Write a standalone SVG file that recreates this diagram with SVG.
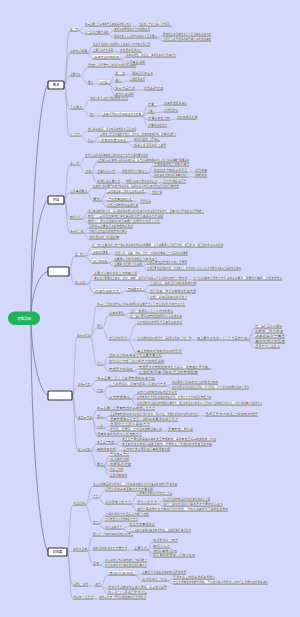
<svg xmlns="http://www.w3.org/2000/svg" width="300" height="617" viewBox="0 0 300 617">
<style>
.t{font-family:"Noto Sans CJK SC","Noto Sans",sans-serif;font-size:2.6px;fill:#4a4a4a}
.w{fill:#fbfbfd}
.bx{fill:#fff;stroke:#b4b7c6;stroke-width:.3}
.u{stroke:#333;stroke-width:.6;fill:none}
.c{fill:none;stroke:#8e92a8;stroke-width:.45}
.cb{fill:none;stroke:#7f8398;stroke-width:.9}
.br{fill:#fff;stroke:#333;stroke-width:1.2}
.bt{font-family:"Noto Sans CJK SC",sans-serif;font-size:3.2px;fill:#222;text-anchor:middle}
</style>
<rect width="300" height="617" fill="#d4d8fa"/>
<g id="connectors">
<g class="cb">
<path d="M31 314C31 200 40 92 48 85"/>
<path d="M31 315C31 260 40 204 48 200"/>
<path d="M31 316C32 290 40 273 48 271.5"/>
<path d="M31 321C32 360 40 393 48 395.5"/>
<path d="M31 322C31 440 40 540 48 552"/>
</g>
<g class="c">
<path d="M64 85C67 85 66 31 70 31"/><path d="M64 85C67 85 66 53 70 53"/><path d="M64 85C67 85 66 76 70 76"/><path d="M64 85C67 85 66 109 70 109"/><path d="M64 85C67 85 66 136 70 136"/>
<path d="M64 200C67 200 66 165 70 165"/><path d="M64 200C67 200 66 193 70 193"/><path d="M64 200C67 200 66 219 70 219"/><path d="M64 200C67 200 66 233 70 233"/>
<path d="M69 271.5C72 271.5 71 256 75 256"/><path d="M69 271.5C72 271.5 71 284 75 284"/>
<path d="M72 395.5C75 395.5 74 337 77 337"/><path d="M72 395.5C75 395.5 74 386 78 386"/><path d="M72 395.5C75 395.5 74 419 78 419"/><path d="M72 395.5C75 395.5 74 451 78 451"/>
<path d="M67 552C70 552 69 505 73 505"/><path d="M67 552C70 552 69 551 73 551"/><path d="M67 552C70 552 69 586 73 586"/><path d="M67 552C70 552 69 599 73 599"/>
<path d="M78 31C81.5 31 81.5 26 85 26"/><path d="M78 31C81.5 31 81.5 34 85 34"/><path d="M131 26H139"/><path d="M108 34C111 34 111 31 114 31"/><path d="M108 34C111 34 111 38 114 38"/><path d="M157 38C160 38 160 36 163 36"/><path d="M157 38C160 38 160 41 163 41"/>
<path d="M87 53C90 53 90 46 93 46"/><path d="M87 53C90 53 90 52 93 52"/><path d="M87 53C90 53 90 59 93 59"/><path d="M113 52H120"/><path d="M120 59C123 59 123 57 126 57"/><path d="M120 59C123 59 123 64 126 64"/>
<path d="M80 76C84 76 84 67 88 67"/><path d="M80 76C84 76 84 84 88 84"/><path d="M93 84H99"/><path d="M109 84C112 84 112 75 115 75"/><path d="M109 84C112 84 112 82 115 82"/><path d="M109 84C112 84 112 90 115 90"/><path d="M109 84C112 84 112 96 115 96"/><path d="M125 75H132"/><path d="M122 82C126 82 126 81 130 81"/><path d="M135 90H144"/>
<path d="M82 109C86 109 86 100 90 100"/><path d="M82 109C86 109 86 116 90 116"/><path d="M94 116H102"/><path d="M142 116C145 116 145 106 148 106"/><path d="M142 116C145 116 145 113 148 113"/><path d="M142 116C145 116 145 120 148 120"/><path d="M142 116C145 116 145 127 148 127"/><path d="M157 106C160.5 106 160.5 105 164 105"/><path d="M155 113C159 113 159 112 163 112"/><path d="M170 120C173.5 120 173.5 119 177 119"/>
<path d="M80 136C84 136 84 131 88 131"/><path d="M80 136C84 136 84 142 88 142"/><path d="M93 142C96.5 142 96.5 136 100 136"/><path d="M93 142H100"/><path d="M127 142C130.5 142 130.5 141 134 141"/><path d="M127 142C130.5 142 130.5 147 134 147"/>
<path d="M79 165C82 165 82 157 85 157"/><path d="M79 165C82 165 82 173 85 173"/><path d="M91 173C94 173 94 162 97 162"/><path d="M91 173H97"/><path d="M91 173C94 173 94 183 97 183"/><path d="M115 173H122"/><path d="M147 173C150.5 173 150.5 166 154 166"/><path d="M147 173C150.5 173 150.5 172 154 172"/><path d="M147 173C150.5 173 150.5 177 154 177"/><path d="M187 172H195"/><path d="M188 177H195"/><path d="M120 183H126"/><path d="M157 183H163"/>
<path d="M87 193C90 193 90 188 93 188"/><path d="M87 193C90 193 90 201 93 201"/><path d="M100 201C103.5 201 103.5 193 107 193"/><path d="M100 201H107"/><path d="M100 201C103.5 201 103.5 207 107 207"/><path d="M145 193C148.5 193 148.5 194 152 194"/><path d="M133 201C136.5 201 136.5 203 140 203"/>
<path d="M81 219C84.5 219 84.5 213 88 213"/><path d="M81 219C84.5 219 84.5 218 88 218"/><path d="M81 219C84.5 219 84.5 223 88 223"/><path d="M83 233C86 233 86 228 89 228"/><path d="M83 233H89"/><path d="M83 233C86 233 86 239 89 239"/>
<path d="M85 256C88.5 256 88.5 247 92 247"/><path d="M85 256C88.5 256 88.5 254 92 254"/><path d="M85 256C88.5 256 88.5 263 92 263"/><path d="M109 254C112 254 112 255 115 255"/><path d="M108 263C111 263 111 261 114 261"/><path d="M108 263C111 263 111 266 114 266"/><path d="M142 266C144.5 266 144.5 264 147 264"/><path d="M142 266C144.5 266 144.5 270 147 270"/>
<path d="M87 284C90.5 284 90.5 275 94 275"/><path d="M87 284C90.5 284 90.5 280 94 280"/><path d="M87 284C90.5 284 90.5 293 94 293"/><path d="M187 280H193"/><path d="M120 293C123.5 293 123.5 291 127 291"/><path d="M143 291C146.5 291 146.5 285 150 285"/><path d="M143 291C146.5 291 146.5 293 150 293"/><path d="M143 291C146.5 291 146.5 299 150 299"/>
<path d="M90 337C93.5 337 93.5 306 97 306"/><path d="M90 337C93.5 337 93.5 328 97 328"/><path d="M90 337C93.5 337 93.5 365 97 365"/><path d="M102 328C105.5 328 105.5 315 109 315"/><path d="M102 328C105.5 328 105.5 340 109 340"/><path d="M124 315C127 315 127 313 130 313"/><path d="M124 315C127 315 127 318 130 318"/><path d="M127 340C132 340 132 324 137 324"/><path d="M127 340H137"/><path d="M127 340C132 340 132 353 137 353"/><path d="M191 340H197"/><path d="M247 340C251 340 251 328 255 328"/><path d="M247 340C251 340 251 333 255 333"/><path d="M247 340C251 340 251 338 255 338"/><path d="M247 340C251 340 251 343 255 343"/><path d="M247 340C251 340 251 348 255 348"/>
<path d="M102 365C105.5 365 105.5 357 109 357"/><path d="M102 365C105.5 365 105.5 363 109 363"/><path d="M102 365C105.5 365 105.5 371 109 371"/><path d="M133 371C136 371 136 369 139 369"/><path d="M133 371C136 371 136 374 139 374"/>
<path d="M90 386C93.5 386 93.5 380 97 380"/><path d="M90 386C93.5 386 93.5 392 97 392"/><path d="M103 392C106 392 106 386 109 386"/><path d="M103 392C106 392 106 399 109 399"/><path d="M166 386C169 386 169 384 172 384"/><path d="M166 386C169 386 169 389 172 389"/><path d="M130 399C133.5 399 133.5 394 137 394"/><path d="M130 399H137"/><path d="M130 399C133.5 399 133.5 405 137 405"/>
<path d="M92 419C94.5 419 94.5 410 97 410"/><path d="M92 419C94.5 419 94.5 418 97 418"/><path d="M92 419C94.5 419 94.5 428 97 428"/><path d="M92 419C94.5 419 94.5 436 97 436"/><path d="M103 418C106.5 418 106.5 416 110 416"/><path d="M103 418C106.5 418 106.5 421 110 421"/><path d="M198 416H205"/><path d="M103 428C106.5 428 106.5 426 110 426"/><path d="M103 428C106.5 428 106.5 431 110 431"/><path d="M162 431H168"/>
<path d="M90 451C93.5 451 93.5 444 97 444"/><path d="M90 451H97"/><path d="M90 451C93.5 451 93.5 466 97 466"/><path d="M114 444C118 444 118 441 122 441"/><path d="M114 444C118 444 118 446 122 446"/><path d="M116 451H123"/><path d="M103 466C106.5 466 106.5 456 110 456"/><path d="M103 466C106.5 466 106.5 461 110 461"/><path d="M103 466H110"/><path d="M103 466C106.5 466 106.5 471 110 471"/><path d="M103 466C106.5 466 106.5 477 110 477"/>
<path d="M85 505C89 505 89 486 93 486"/><path d="M85 505C89 505 89 498 93 498"/><path d="M85 505C89 505 89 524 93 524"/><path d="M98 498C101.5 498 101.5 491 105 491"/><path d="M98 498C101.5 498 101.5 504 105 504"/><path d="M131 504C134 504 134 495 137 495"/><path d="M131 504H137"/><path d="M131 504C134 504 134 511 137 511"/><path d="M157 504C160 504 160 501 163 501"/><path d="M157 504C160 504 160 506 163 506"/><path d="M98 524C101.5 524 101.5 516 105 516"/><path d="M98 524C101.5 524 101.5 521 105 521"/><path d="M98 524C101.5 524 101.5 529 105 529"/><path d="M122 529C125.5 529 125.5 526 129 526"/><path d="M122 529C125.5 529 125.5 532 129 532"/>
<path d="M87 551C90 551 90 536 93 536"/><path d="M87 551C90 551 90 550 93 550"/><path d="M87 551C90 551 90 565 93 565"/><path d="M127 550H134"/><path d="M147 550C150 550 150 542 153 542"/><path d="M147 550C150 550 150 548 153 548"/><path d="M147 550C150 550 150 553 153 553"/><path d="M147 550C150 550 150 557 153 557"/><path d="M99 565C102 565 102 562 105 562"/><path d="M99 565C102 565 102 567 105 567"/>
<path d="M88 586H95"/><path d="M100 586C104 586 104 575 108 575"/><path d="M100 586C104 586 104 589 108 589"/><path d="M100 586C104 586 104 594 108 594"/><path d="M135 575C138.5 575 138.5 574 142 574"/><path d="M135 575C138.5 575 138.5 581 142 581"/><path d="M167 581C170 581 170 579 173 579"/><path d="M167 581C170 581 170 584 173 584"/><path d="M93 599H99"/>
</g>
</g>
<g id="root"><rect x="8" y="311.5" width="32" height="13.5" rx="6.75" fill="#1fb35b"/><text x="24" y="319.5" text-anchor="middle" font-family="Noto Sans CJK SC, sans-serif" font-size="3.4" fill="#fff">思维导图</text></g>
<g id="B1"><rect class="br" x="48" y="81" width="16" height="8" rx="1"/><text class="bt" x="56" y="86.2">概述</text></g>
<g id="B2"><rect class="br" x="48" y="196" width="16" height="8" rx="1"/><text class="bt" x="56" y="201.2">内容</text></g>
<g id="B3"><rect class="br" x="48" y="267" width="21" height="9" rx="1"/></g>
<g id="B4"><rect class="br" x="48" y="391" width="24" height="9" rx="1"/></g>
<g id="B5"><rect class="br" x="48" y="548" width="19" height="8" rx="1"/><text class="bt" x="57.5" y="553.2">总结篇</text></g>
<g id="a1" transform="translate(70 31)"><rect class="w" y="-3.2" width="8" height="3.2"/><text class="t" y="-.7" textLength="8" lengthAdjust="spacingAndGlyphs">第一节</text><path class="u" d="M0 0H8"/></g>
<g id="a1a" transform="translate(85 26)"><rect class="w" y="-3.2" width="46" height="3.2"/><text class="t" y="-.7" textLength="46" lengthAdjust="spacingAndGlyphs">本章主要介绍基本概念及其相关的理论知识</text><path class="u" d="M0 0H46"/></g>
<g id="a1a1" transform="translate(139 26)"><rect class="w" y="-3.2" width="33" height="3.2"/><text class="t" y="-.7" textLength="33" lengthAdjust="spacingAndGlyphs">包括定义特点分类以及作用意义</text><path class="u" d="M0 0H33"/></g>
<g id="a1b" transform="translate(85 34)"><rect class="w" y="-3.2" width="23" height="3.2"/><text class="t" y="-.7" textLength="23" lengthAdjust="spacingAndGlyphs">学习目标与要求说明</text><path class="u" d="M0 0H23"/></g>
<g id="a1b1" transform="translate(114 31)"><rect class="w" y="-3.2" width="36" height="3.2"/><text class="t" y="-.7" textLength="36" lengthAdjust="spacingAndGlyphs">掌握基本原理和方法的具体运用</text><path class="u" d="M0 0H36"/></g>
<g id="a1b2" transform="translate(114 38)"><rect class="w" y="-3.2" width="43" height="3.2"/><text class="t" y="-.7" textLength="43" lengthAdjust="spacingAndGlyphs">理解各部分之间的内在联系与区别要点</text><path class="u" d="M0 0H43"/></g>
<g id="a1b2a" transform="translate(163 36)"><rect class="w" y="-3.2" width="48" height="3.2"/><text class="t" y="-.7" textLength="48" lengthAdjust="spacingAndGlyphs">能够结合实际案例进行分析判断和总结归纳</text><path class="u" d="M0 0H48"/></g>
<g id="a1b2b" transform="translate(163 41)"><rect class="w" y="-3.2" width="48" height="3.2"/><text class="t" y="-.7" textLength="48" lengthAdjust="spacingAndGlyphs">注意区分容易混淆的概念避免出现理解偏差</text><path class="u" d="M0 0H48"/></g>
<g id="a2" transform="translate(70 53)"><rect class="w" y="-3.2" width="17" height="3.2"/><text class="t" y="-.7" textLength="17" lengthAdjust="spacingAndGlyphs">基础知识概要</text><path class="u" d="M0 0H17"/></g>
<g id="a2a" transform="translate(93 46)"><rect class="w" y="-3.2" width="57" height="3.2"/><text class="t" y="-.7" textLength="57" lengthAdjust="spacingAndGlyphs">相关术语的定义和解释以及在实际工作中的应用范围</text><path class="u" d="M0 0H57"/></g>
<g id="a2b" transform="translate(93 52)"><rect class="w" y="-3.2" width="20" height="3.2"/><text class="t" y="-.7" textLength="20" lengthAdjust="spacingAndGlyphs">主要分类方式说明</text><path class="u" d="M0 0H20"/></g>
<g id="a2b1" transform="translate(120 52)"><rect class="w" y="-3.2" width="22" height="3.2"/><text class="t" y="-.7" textLength="22" lengthAdjust="spacingAndGlyphs">按性质和用途划分</text><path class="u" d="M0 0H22"/></g>
<g id="a2c" transform="translate(93 59)"><rect class="bx" y="-4.2" width="27" height="4.2"/><text class="t" x="1" y="-1.2" textLength="25" lengthAdjust="spacingAndGlyphs">基本特征归纳总结</text><path class="u" d="M0 0H27"/></g>
<g id="a2c1" transform="translate(126 57)"><rect class="w" y="-3.2" width="50" height="3.2"/><text class="t" y="-.7" textLength="50" lengthAdjust="spacingAndGlyphs">具有系统性、综合性、实践性和规范性等特点</text><path class="u" d="M0 0H50"/></g>
<g id="a2c2" transform="translate(126 64)"><rect class="w" y="-3.2" width="19" height="3.2"/><text class="t" y="-.7" textLength="19" lengthAdjust="spacingAndGlyphs">注意事项说明</text><path class="u" d="M0 0H19"/></g>
<g id="a3" transform="translate(70 76)"><rect class="w" y="-3.2" width="10" height="3.2"/><text class="t" y="-.7" textLength="10" lengthAdjust="spacingAndGlyphs">主要内容</text><path class="u" d="M0 0H10"/></g>
<g id="a3a" transform="translate(88 67)"><rect class="w" y="-3.2" width="48" height="3.2"/><text class="t" y="-.7" textLength="48" lengthAdjust="spacingAndGlyphs">围绕核心问题展开论述并提出相应解决措施</text><path class="u" d="M0 0H48"/></g>
<g id="a3b" transform="translate(88 84)"><rect class="w" y="-3.2" width="5" height="3.2"/><text class="t" y="-.7" textLength="5" lengthAdjust="spacingAndGlyphs">要点</text><path class="u" d="M0 0H5"/></g>
<g id="a3b1" transform="translate(99 84)"><rect class="bx" y="-4.2" width="10" height="4.2"/><text class="t" x="1" y="-1.2" textLength="8" lengthAdjust="spacingAndGlyphs">三方面</text><path class="u" d="M0 0H10"/></g>
<g id="a3b1a" transform="translate(115 75)"><rect class="w" y="-3.2" width="10" height="3.2"/><text class="t" y="-.7" textLength="10" lengthAdjust="spacingAndGlyphs">第一点</text><path class="u" d="M0 0H10"/></g>
<g id="a3b1a1" transform="translate(132 75)"><rect class="w" y="-3.2" width="21" height="3.2"/><text class="t" y="-.7" textLength="21" lengthAdjust="spacingAndGlyphs">明确目标和任务</text><path class="u" d="M0 0H21"/></g>
<g id="a3b1b" transform="translate(115 82)"><rect class="w" y="-3.2" width="7" height="3.2"/><text class="t" y="-.7" textLength="7" lengthAdjust="spacingAndGlyphs">其二</text><path class="u" d="M0 0H7"/></g>
<g id="a3b1b1" transform="translate(130 81)"><rect class="w" y="-3.2" width="15" height="3.2"/><text class="t" y="-.7" textLength="15" lengthAdjust="spacingAndGlyphs">合理配置资源</text><path class="u" d="M0 0H15"/></g>
<g id="a3b1c" transform="translate(115 90)"><rect class="w" y="-3.2" width="20" height="3.2"/><text class="t" y="-.7" textLength="20" lengthAdjust="spacingAndGlyphs">第三方面内容</text><path class="u" d="M0 0H20"/></g>
<g id="a3b1c1" transform="translate(144 90)"><rect class="w" y="-3.2" width="19" height="3.2"/><text class="t" y="-.7" textLength="19" lengthAdjust="spacingAndGlyphs">加强监督与检查</text><path class="u" d="M0 0H19"/></g>
<g id="a3b1d" transform="translate(115 96)"><rect class="w" y="-3.2" width="19" height="3.2"/><text class="t" y="-.7" textLength="19" lengthAdjust="spacingAndGlyphs">其他补充说明</text><path class="u" d="M0 0H19"/></g>
<g id="a4" transform="translate(70 109)"><rect class="w" y="-3.2" width="12" height="3.2"/><text class="t" y="-.7" textLength="12" lengthAdjust="spacingAndGlyphs">重点难点</text><path class="u" d="M0 0H12"/></g>
<g id="a4a" transform="translate(90 100)"><rect class="w" y="-3.2" width="38" height="3.2"/><text class="t" y="-.7" textLength="38" lengthAdjust="spacingAndGlyphs">本部分的重点在于理解原理与方法</text><path class="u" d="M0 0H38"/></g>
<g id="a4b" transform="translate(90 116)"><rect class="w" y="-3.2" width="4" height="3.2"/><text class="t" y="-.7" textLength="4" lengthAdjust="spacingAndGlyphs">难点</text><path class="u" d="M0 0H4"/></g>
<g id="a4b1" transform="translate(102 116)"><rect class="bx" y="-4.2" width="40" height="4.2"/><text class="t" x="1" y="-1.2" textLength="38" lengthAdjust="spacingAndGlyphs">具体问题的分析和解决方法步骤</text><path class="u" d="M0 0H40"/></g>
<g id="a4c1" transform="translate(148 106)"><rect class="w" y="-3.2" width="9" height="3.2"/><text class="t" y="-.7" textLength="9" lengthAdjust="spacingAndGlyphs">步骤一</text><path class="u" d="M0 0H9"/></g>
<g id="a4c1a" transform="translate(164 105)"><rect class="w" y="-3.2" width="23" height="3.2"/><text class="t" y="-.7" textLength="23" lengthAdjust="spacingAndGlyphs">收集整理相关资料</text><path class="u" d="M0 0H23"/></g>
<g id="a4c2" transform="translate(148 113)"><rect class="w" y="-3.2" width="7" height="3.2"/><text class="t" y="-.7" textLength="7" lengthAdjust="spacingAndGlyphs">步骤二</text><path class="u" d="M0 0H7"/></g>
<g id="a4c2a" transform="translate(163 112)"><rect class="w" y="-3.2" width="15" height="3.2"/><text class="t" y="-.7" textLength="15" lengthAdjust="spacingAndGlyphs">分析原因所在</text><path class="u" d="M0 0H15"/></g>
<g id="a4c3" transform="translate(148 120)"><rect class="w" y="-3.2" width="22" height="3.2"/><text class="t" y="-.7" textLength="22" lengthAdjust="spacingAndGlyphs">步骤三制定方案</text><path class="u" d="M0 0H22"/></g>
<g id="a4c3a" transform="translate(177 119)"><rect class="w" y="-3.2" width="20" height="3.2"/><text class="t" y="-.7" textLength="20" lengthAdjust="spacingAndGlyphs">组织实施并反馈</text><path class="u" d="M0 0H20"/></g>
<g id="a4c4" transform="translate(148 127)"><rect class="w" y="-3.2" width="19" height="3.2"/><text class="t" y="-.7" textLength="19" lengthAdjust="spacingAndGlyphs">步骤四总结评价</text><path class="u" d="M0 0H19"/></g>
<g id="a5" transform="translate(70 136)"><rect class="w" y="-3.2" width="10" height="3.2"/><text class="t" y="-.7" textLength="10" lengthAdjust="spacingAndGlyphs">学习方法</text><path class="u" d="M0 0H10"/></g>
<g id="a5a" transform="translate(88 131)"><rect class="w" y="-3.2" width="48" height="3.2"/><text class="t" y="-.7" textLength="48" lengthAdjust="spacingAndGlyphs">理论联系实际，注重知识的理解与灵活运用</text><path class="u" d="M0 0H48"/></g>
<g id="a5b" transform="translate(88 142)"><rect class="w" y="-3.2" width="5" height="3.2"/><text class="t" y="-.7" textLength="5" lengthAdjust="spacingAndGlyphs">建议</text><path class="u" d="M0 0H5"/></g>
<g id="a5b1" transform="translate(100 136)"><rect class="w" y="-3.2" width="76" height="3.2"/><text class="t" y="-.7" textLength="76" lengthAdjust="spacingAndGlyphs">多做练习题目巩固所学知识，及时复习总结并查漏补缺，提高综合能力</text><path class="u" d="M0 0H76"/></g>
<g id="a5b2" transform="translate(100 142)"><rect class="bx" y="-4.2" width="27" height="4.2"/><text class="t" x="1" y="-1.2" textLength="25" lengthAdjust="spacingAndGlyphs">参考资料推荐书目</text><path class="u" d="M0 0H27"/></g>
<g id="a5b2a" transform="translate(134 141)"><rect class="w" y="-3.2" width="26" height="3.2"/><text class="t" y="-.7" textLength="26" lengthAdjust="spacingAndGlyphs">教材及配套习题集合</text><path class="u" d="M0 0H26"/></g>
<g id="a5b2b" transform="translate(134 147)"><rect class="w" y="-3.2" width="32" height="3.2"/><text class="t" y="-.7" textLength="32" lengthAdjust="spacingAndGlyphs">相关论文及网络学习资源</text><path class="u" d="M0 0H32"/></g>
<g id="b1" transform="translate(70 165)"><rect class="w" y="-3.2" width="9" height="3.2"/><text class="t" y="-.7" textLength="9" lengthAdjust="spacingAndGlyphs">第二节</text><path class="u" d="M0 0H9"/></g>
<g id="b1a" transform="translate(85 157)"><rect class="w" y="-3.2" width="63" height="3.2"/><text class="t" y="-.7" textLength="63" lengthAdjust="spacingAndGlyphs">本节重点阐述具体实施过程中的各个环节与操作要求说明</text><path class="u" d="M0 0H63"/></g>
<g id="b1b" transform="translate(85 173)"><rect class="w" y="-3.2" width="6" height="3.2"/><text class="t" y="-.7" textLength="6" lengthAdjust="spacingAndGlyphs">流程</text><path class="u" d="M0 0H6"/></g>
<g id="b1b1" transform="translate(97 162)"><rect class="w" y="-3.2" width="92" height="3.2"/><text class="t" y="-.7" textLength="92" lengthAdjust="spacingAndGlyphs">从准备阶段到实施阶段再到总结阶段，每个阶段都有明确的任务目标和具体要求需要落实</text><path class="u" d="M0 0H92"/></g>
<g id="b1b2" transform="translate(97 173)"><rect class="w" y="-3.2" width="18" height="3.2"/><text class="t" y="-.7" textLength="18" lengthAdjust="spacingAndGlyphs">准备阶段工作</text><path class="u" d="M0 0H18"/></g>
<g id="b1b2a" transform="translate(122 173)"><rect class="w" y="-3.2" width="25" height="3.2"/><text class="t" y="-.7" textLength="25" lengthAdjust="spacingAndGlyphs">前期调研与方案设计</text><path class="u" d="M0 0H25"/></g>
<g id="b1b2a1" transform="translate(154 166)"><rect class="w" y="-3.2" width="35" height="3.2"/><text class="t" y="-.7" textLength="35" lengthAdjust="spacingAndGlyphs">开展调查研究了解实际情况</text><path class="u" d="M0 0H35"/></g>
<g id="b1b2a2" transform="translate(154 172)"><rect class="w" y="-3.2" width="33" height="3.2"/><text class="t" y="-.7" textLength="33" lengthAdjust="spacingAndGlyphs">制定初步方案并征求意见</text><path class="u" d="M0 0H33"/></g>
<g id="b1b2a2x" transform="translate(195 172)"><rect class="w" y="-3.2" width="12" height="3.2"/><text class="t" y="-.7" textLength="12" lengthAdjust="spacingAndGlyphs">修改完善</text><path class="u" d="M0 0H12"/></g>
<g id="b1b2a3" transform="translate(154 177)"><rect class="w" y="-3.2" width="34" height="3.2"/><text class="t" y="-.7" textLength="34" lengthAdjust="spacingAndGlyphs">确定最终方案并报请审批执行</text><path class="u" d="M0 0H34"/></g>
<g id="b1b2a3x" transform="translate(195 177)"><rect class="w" y="-3.2" width="12" height="3.2"/><text class="t" y="-.7" textLength="12" lengthAdjust="spacingAndGlyphs">按期完成</text><path class="u" d="M0 0H12"/></g>
<g id="b1b3" transform="translate(97 183)"><rect class="w" y="-3.2" width="23" height="3.2"/><text class="t" y="-.7" textLength="23" lengthAdjust="spacingAndGlyphs">实施阶段主要工作</text><path class="u" d="M0 0H23"/></g>
<g id="b1b3a" transform="translate(126 183)"><rect class="w" y="-3.2" width="31" height="3.2"/><text class="t" y="-.7" textLength="31" lengthAdjust="spacingAndGlyphs">按照计划有序推进各项任务</text><path class="u" d="M0 0H31"/></g>
<g id="b1b3b" transform="translate(163 183)"><rect class="w" y="-3.2" width="23" height="3.2"/><text class="t" y="-.7" textLength="23" lengthAdjust="spacingAndGlyphs">及时协调解决问题</text><path class="u" d="M0 0H23"/></g>
<g id="b2" transform="translate(70 193)"><rect class="w" y="-3.2" width="17" height="3.2"/><text class="t" y="-.7" textLength="17" lengthAdjust="spacingAndGlyphs">注意事项要点</text><path class="u" d="M0 0H17"/></g>
<g id="b2a" transform="translate(93 188)"><rect class="w" y="-3.2" width="86" height="3.2"/><text class="t" y="-.7" textLength="86" lengthAdjust="spacingAndGlyphs">在实施过程中要严格遵守相关规定，确保各项工作规范有序地进行并取得预期效果</text><path class="u" d="M0 0H86"/></g>
<g id="b2b" transform="translate(93 201)"><rect class="w" y="-3.2" width="7" height="3.2"/><text class="t" y="-.7" textLength="7" lengthAdjust="spacingAndGlyphs">要求</text><path class="u" d="M0 0H7"/></g>
<g id="b2b1" transform="translate(107 193)"><rect class="bx" y="-4.2" width="38" height="4.2"/><text class="t" x="1" y="-1.2" textLength="36" lengthAdjust="spacingAndGlyphs">坚持安全第一预防为主综合治理</text><path class="u" d="M0 0H38"/></g>
<g id="b2b1a" transform="translate(152 194)"><rect class="w" y="-3.2" width="10" height="3.2"/><text class="t" y="-.7" textLength="10" lengthAdjust="spacingAndGlyphs">常抓不懈</text><path class="u" d="M0 0H10"/></g>
<g id="b2b2" transform="translate(107 201)"><rect class="bx" y="-4.2" width="26" height="4.2"/><text class="t" x="1" y="-1.2" textLength="24" lengthAdjust="spacingAndGlyphs">严格质量控制标准</text><path class="u" d="M0 0H26"/></g>
<g id="b2b2a" transform="translate(140 203)"><rect class="w" y="-3.2" width="11" height="3.2"/><text class="t" y="-.7" textLength="11" lengthAdjust="spacingAndGlyphs">层层把关</text><path class="u" d="M0 0H11"/></g>
<g id="b2b3" transform="translate(107 207)"><rect class="w" y="-3.2" width="31" height="3.2"/><text class="t" y="-.7" textLength="31" lengthAdjust="spacingAndGlyphs">加强过程管理和监督检查</text><path class="u" d="M0 0H31"/></g>
<g id="b3" transform="translate(70 219)"><rect class="w" y="-3.2" width="11" height="3.2"/><text class="t" y="-.7" textLength="11" lengthAdjust="spacingAndGlyphs">案例分析</text><path class="u" d="M0 0H11"/></g>
<g id="b3a" transform="translate(88 213)"><rect class="w" y="-3.2" width="116" height="3.2"/><text class="t" y="-.7" textLength="116" lengthAdjust="spacingAndGlyphs">通过典型案例的分析，深入理解相关理论知识在实际中的运用方法和技巧，提高分析问题和解决问题的能力</text><path class="u" d="M0 0H116"/></g>
<g id="b3b" transform="translate(88 218)"><rect class="w" y="-3.2" width="75" height="3.2"/><text class="t" y="-.7" textLength="75" lengthAdjust="spacingAndGlyphs">案例一：某单位在实施过程中遇到的问题及其解决办法说明</text><path class="u" d="M0 0H75"/></g>
<g id="b3c" transform="translate(88 223)"><rect class="w" y="-3.2" width="72" height="3.2"/><text class="t" y="-.7" textLength="72" lengthAdjust="spacingAndGlyphs">案例二：成功经验的总结及其推广应用价值与意义分析</text><path class="u" d="M0 0H72"/></g>
<g id="b4" transform="translate(70 233)"><rect class="w" y="-3.2" width="13" height="3.2"/><text class="t" y="-.7" textLength="13" lengthAdjust="spacingAndGlyphs">本章的小结</text><path class="u" d="M0 0H13"/></g>
<g id="b4a" transform="translate(89 228)"><rect class="w" y="-3.2" width="44" height="3.2"/><text class="t" y="-.7" textLength="44" lengthAdjust="spacingAndGlyphs">回顾本章主要知识点并梳理知识框架</text><path class="u" d="M0 0H44"/></g>
<g id="b4b" transform="translate(89 233)"><rect class="w" y="-3.2" width="38" height="3.2"/><text class="t" y="-.7" textLength="38" lengthAdjust="spacingAndGlyphs">归纳重点内容形成完整知识体系</text><path class="u" d="M0 0H38"/></g>
<g id="b4c" transform="translate(89 239)"><rect class="w" y="-3.2" width="30" height="3.2"/><text class="t" y="-.7" textLength="30" lengthAdjust="spacingAndGlyphs">完成课后练习巩固提高</text><path class="u" d="M0 0H30"/></g>
<g id="c1" transform="translate(75 256)"><rect class="w" y="-3.2" width="10" height="3.2"/><text class="t" y="-.7" textLength="10" lengthAdjust="spacingAndGlyphs">第一部分</text><path class="u" d="M0 0H10"/></g>
<g id="c1a" transform="translate(92 247)"><rect class="w" y="-3.2" width="131" height="3.2"/><text class="t" y="-.7" textLength="131" lengthAdjust="spacingAndGlyphs">这一部分主要讲述了整个体系的基本结构和组成要素，以及各要素之间相互作用、相互影响、相互制约的关系和规律</text><path class="u" d="M0 0H131"/></g>
<g id="c1b" transform="translate(92 254)"><rect class="bx" y="-4.2" width="17" height="4.2"/><text class="t" x="1" y="-1.2" textLength="15" lengthAdjust="spacingAndGlyphs">基本组成要素</text><path class="u" d="M0 0H17"/></g>
<g id="c1b1" transform="translate(115 255)"><rect class="w" y="-3.2" width="73" height="3.2"/><text class="t" y="-.7" textLength="73" lengthAdjust="spacingAndGlyphs">包括人员、设备、材料、方法、环境和测量等六个方面的基本要素</text><path class="u" d="M0 0H73"/></g>
<g id="c1c" transform="translate(92 263)"><rect class="bx" y="-4.2" width="16" height="4.2"/><text class="t" x="1" y="-1.2" textLength="14" lengthAdjust="spacingAndGlyphs">运行机制说明</text><path class="u" d="M0 0H16"/></g>
<g id="c1c1" transform="translate(114 261)"><rect class="w" y="-3.2" width="43" height="3.2"/><text class="t" y="-.7" textLength="43" lengthAdjust="spacingAndGlyphs">各要素之间的协调配合与有效运行</text><path class="u" d="M0 0H43"/></g>
<g id="c1c2" transform="translate(114 266)"><rect class="w" y="-3.2" width="28" height="3.2"/><text class="t" y="-.7" textLength="28" lengthAdjust="spacingAndGlyphs">主要影响因素分析说明</text><path class="u" d="M0 0H28"/></g>
<g id="c1c2a" transform="translate(147 264)"><rect class="w" y="-3.2" width="40" height="3.2"/><text class="t" y="-.7" textLength="40" lengthAdjust="spacingAndGlyphs">内部因素包括管理水平和人员素质</text><path class="u" d="M0 0H40"/></g>
<g id="c1c2b" transform="translate(147 270)"><rect class="w" y="-3.2" width="94" height="3.2"/><text class="t" y="-.7" textLength="94" lengthAdjust="spacingAndGlyphs">外部因素包括政策环境、市场变化、技术进步以及社会经济发展水平等多方面的综合影响</text><path class="u" d="M0 0H94"/></g>
<g id="c2" transform="translate(75 284)"><rect class="w" y="-3.2" width="12" height="3.2"/><text class="t" y="-.7" textLength="12" lengthAdjust="spacingAndGlyphs">第二大部分</text><path class="u" d="M0 0H12"/></g>
<g id="c2a" transform="translate(94 275)"><rect class="w" y="-3.2" width="43" height="3.2"/><text class="t" y="-.7" textLength="43" lengthAdjust="spacingAndGlyphs">主要讨论体系的建立与完善过程</text><path class="u" d="M0 0H43"/></g>
<g id="c2b" transform="translate(94 280)"><rect class="w" y="-3.2" width="93" height="3.2"/><text class="t" y="-.7" textLength="93" lengthAdjust="spacingAndGlyphs">体系建立需要经过策划、设计、实施、运行和改进等多个阶段的持续努力才能完成</text><path class="u" d="M0 0H93"/></g>
<g id="c2b1" transform="translate(193 280)"><rect class="w" y="-3.2" width="89" height="3.2"/><text class="t" y="-.7" textLength="89" lengthAdjust="spacingAndGlyphs">每个阶段都有不同的工作重点和任务要求，需要统筹兼顾、合理安排推进</text><path class="u" d="M0 0H89"/></g>
<g id="c2c" transform="translate(94 293)"><rect class="bx" y="-4.2" width="26" height="4.2"/><text class="t" x="1" y="-1.2" textLength="24" lengthAdjust="spacingAndGlyphs">持续改进的方法</text><path class="u" d="M0 0H26"/></g>
<g id="c2c1" transform="translate(127 291)"><rect class="bx" y="-4.2" width="16" height="4.2"/><text class="t" x="1" y="-1.2" textLength="14" lengthAdjust="spacingAndGlyphs">戴明循环法</text><path class="u" d="M0 0H16"/></g>
<g id="c2c1a" transform="translate(150 285)"><rect class="w" y="-3.2" width="46" height="3.2"/><text class="t" y="-.7" textLength="46" lengthAdjust="spacingAndGlyphs">计划阶段：确定目标和制定实施方案</text><path class="u" d="M0 0H46"/></g>
<g id="c2c1b" transform="translate(150 293)"><rect class="w" y="-3.2" width="46" height="3.2"/><text class="t" y="-.7" textLength="46" lengthAdjust="spacingAndGlyphs">执行检查：按计划实施并检查效果</text><path class="u" d="M0 0H46"/></g>
<g id="c2c1c" transform="translate(150 299)"><rect class="w" y="-3.2" width="37" height="3.2"/><text class="t" y="-.7" textLength="37" lengthAdjust="spacingAndGlyphs">处理：总结经验教训并标准化</text><path class="u" d="M0 0H37"/></g>
<g id="d1" transform="translate(77 337)"><rect class="w" y="-3.2" width="13" height="3.2"/><text class="t" y="-.7" textLength="13" lengthAdjust="spacingAndGlyphs">第三章内容</text><path class="u" d="M0 0H13"/></g>
<g id="d1a" transform="translate(97 306)"><rect class="w" y="-3.2" width="88" height="3.2"/><text class="t" y="-.7" textLength="88" lengthAdjust="spacingAndGlyphs">本章介绍组织结构设计的基本原则和主要方法以及常见组织形式的特点分析</text><path class="u" d="M0 0H88"/></g>
<g id="d1b" transform="translate(97 328)"><rect class="w" y="-3.2" width="5" height="3.2"/><text class="t" y="-.7" textLength="5" lengthAdjust="spacingAndGlyphs">原则</text><path class="u" d="M0 0H5"/></g>
<g id="d1b1" transform="translate(109 315)"><rect class="w" y="-3.2" width="15" height="3.2"/><text class="t" y="-.7" textLength="15" lengthAdjust="spacingAndGlyphs">基本的原则</text><path class="u" d="M0 0H15"/></g>
<g id="d1b1a" transform="translate(130 313)"><rect class="w" y="-3.2" width="43" height="3.2"/><text class="t" y="-.7" textLength="43" lengthAdjust="spacingAndGlyphs">目标一致原则以及分工协作的原则</text><path class="u" d="M0 0H43"/></g>
<g id="d1b1b" transform="translate(130 318)"><rect class="w" y="-3.2" width="52" height="3.2"/><text class="t" y="-.7" textLength="52" lengthAdjust="spacingAndGlyphs">统一指挥原则和管理幅度原则以及权责对等</text><path class="u" d="M0 0H52"/></g>
<g id="d1b2" transform="translate(109 340)"><rect class="w" y="-3.2" width="18" height="3.2"/><text class="t" y="-.7" textLength="18" lengthAdjust="spacingAndGlyphs">常见组织形式</text><path class="u" d="M0 0H18"/></g>
<g id="d1b2a" transform="translate(137 324)"><rect class="w" y="-3.2" width="45" height="3.2"/><text class="t" y="-.7" textLength="45" lengthAdjust="spacingAndGlyphs">直线制组织结构形式及其优点和缺点</text><path class="u" d="M0 0H45"/></g>
<g id="d1b2b" transform="translate(137 340)"><rect class="w" y="-3.2" width="54" height="3.2"/><text class="t" y="-.7" textLength="54" lengthAdjust="spacingAndGlyphs">直线职能制组织结构形式，是目前应用最广泛的一种</text><path class="u" d="M0 0H54"/></g>
<g id="d1b2b1" transform="translate(197 340)"><rect class="w" y="-3.2" width="50" height="3.2"/><text class="t" y="-.7" textLength="50" lengthAdjust="spacingAndGlyphs">其主要特点包括以下几个方面的内容</text><path class="u" d="M0 0H50"/></g>
<g id="d1b2b1a" transform="translate(255 328)"><rect class="w" y="-3.2" width="27" height="3.2"/><text class="t" y="-.7" textLength="27" lengthAdjust="spacingAndGlyphs">统一指挥且分工明确</text><path class="u" d="M0 0H27"/></g>
<g id="d1b2b1b" transform="translate(255 333)"><rect class="w" y="-3.2" width="28" height="3.2"/><text class="t" y="-.7" textLength="28" lengthAdjust="spacingAndGlyphs">职能部门作为参谋</text><path class="u" d="M0 0H28"/></g>
<g id="d1b2b1c" transform="translate(255 338)"><rect class="w" y="-3.2" width="30" height="3.2"/><text class="t" y="-.7" textLength="30" lengthAdjust="spacingAndGlyphs">决策权集中于高层</text><path class="u" d="M0 0H30"/></g>
<g id="d1b2b1d" transform="translate(255 343)"><rect class="w" y="-3.2" width="30" height="3.2"/><text class="t" y="-.7" textLength="30" lengthAdjust="spacingAndGlyphs">横向协调比较困难</text><path class="u" d="M0 0H30"/></g>
<g id="d1b2b1e" transform="translate(255 348)"><rect class="w" y="-3.2" width="25" height="3.2"/><text class="t" y="-.7" textLength="25" lengthAdjust="spacingAndGlyphs">适用于中小型企业</text><path class="u" d="M0 0H25"/></g>
<g id="d1b2c" transform="translate(137 353)"><rect class="w" y="-3.2" width="45" height="3.2"/><text class="t" y="-.7" textLength="45" lengthAdjust="spacingAndGlyphs">事业部制和矩阵制组织结构形式</text><path class="u" d="M0 0H45"/></g>
<g id="d1c" transform="translate(97 365)"><rect class="w" y="-3.2" width="5" height="3.2"/><text class="t" y="-.7" textLength="5" lengthAdjust="spacingAndGlyphs">方法</text><path class="u" d="M0 0H5"/></g>
<g id="d1c1" transform="translate(109 357)"><rect class="w" y="-3.2" width="53" height="3.2"/><text class="t" y="-.7" textLength="53" lengthAdjust="spacingAndGlyphs">组织设计的基本程序与主要步骤分析</text><path class="u" d="M0 0H53"/></g>
<g id="d1c2" transform="translate(109 363)"><rect class="w" y="-3.2" width="55" height="3.2"/><text class="t" y="-.7" textLength="55" lengthAdjust="spacingAndGlyphs">职位设计与部门划分的方法和依据说明</text><path class="u" d="M0 0H55"/></g>
<g id="d1c3" transform="translate(109 371)"><rect class="w" y="-3.2" width="24" height="3.2"/><text class="t" y="-.7" textLength="24" lengthAdjust="spacingAndGlyphs">管理层次的确定</text><path class="u" d="M0 0H24"/></g>
<g id="d1c3a" transform="translate(139 369)"><rect class="w" y="-3.2" width="72" height="3.2"/><text class="t" y="-.7" textLength="72" lengthAdjust="spacingAndGlyphs">管理层次与管理幅度成反比关系，幅度越大层次越少</text><path class="u" d="M0 0H72"/></g>
<g id="d1c3b" transform="translate(139 374)"><rect class="w" y="-3.2" width="59" height="3.2"/><text class="t" y="-.7" textLength="59" lengthAdjust="spacingAndGlyphs">应根据实际情况确定适当的管理幅度</text><path class="u" d="M0 0H59"/></g>
<g id="d2" transform="translate(78 386)"><rect class="w" y="-3.2" width="12" height="3.2"/><text class="t" y="-.7" textLength="12" lengthAdjust="spacingAndGlyphs">第四章内容</text><path class="u" d="M0 0H12"/></g>
<g id="d2a" transform="translate(97 380)"><rect class="w" y="-3.2" width="58" height="3.2"/><text class="t" y="-.7" textLength="58" lengthAdjust="spacingAndGlyphs">本章主要介绍人力资源管理的基本内容</text><path class="u" d="M0 0H58"/></g>
<g id="d2b" transform="translate(97 392)"><rect class="w" y="-3.2" width="6" height="3.2"/><text class="t" y="-.7" textLength="6" lengthAdjust="spacingAndGlyphs">内容</text><path class="u" d="M0 0H6"/></g>
<g id="d2b1" transform="translate(109 386)"><rect class="w" y="-3.2" width="57" height="3.2"/><text class="t" y="-.7" textLength="57" lengthAdjust="spacingAndGlyphs">人力资源规划、招聘与配置以及培训与开发</text><path class="u" d="M0 0H57"/></g>
<g id="d2b1a" transform="translate(172 384)"><rect class="w" y="-3.2" width="46" height="3.2"/><text class="t" y="-.7" textLength="46" lengthAdjust="spacingAndGlyphs">培训需求分析和培训计划的制定与实施</text><path class="u" d="M0 0H46"/></g>
<g id="d2b1b" transform="translate(172 389)"><rect class="w" y="-3.2" width="77" height="3.2"/><text class="t" y="-.7" textLength="77" lengthAdjust="spacingAndGlyphs">培训效果评估包括反应评估、学习评估、行为评估和结果评估四个层次</text><path class="u" d="M0 0H77"/></g>
<g id="d2b2" transform="translate(109 399)"><rect class="w" y="-3.2" width="21" height="3.2"/><text class="t" y="-.7" textLength="21" lengthAdjust="spacingAndGlyphs">绩效管理体系</text><path class="u" d="M0 0H21"/></g>
<g id="d2b2a" transform="translate(137 394)"><rect class="w" y="-3.2" width="40" height="3.2"/><text class="t" y="-.7" textLength="40" lengthAdjust="spacingAndGlyphs">绩效计划的制定和绩效目标设定</text><path class="u" d="M0 0H40"/></g>
<g id="d2b2b" transform="translate(137 399)"><rect class="w" y="-3.2" width="74" height="3.2"/><text class="t" y="-.7" textLength="74" lengthAdjust="spacingAndGlyphs">绩效考核方法包括关键绩效指标法、平衡计分卡法和目标管理法等</text><path class="u" d="M0 0H74"/></g>
<g id="d2b2c" transform="translate(137 405)"><rect class="w" y="-3.2" width="125" height="3.2"/><text class="t" y="-.7" textLength="125" lengthAdjust="spacingAndGlyphs">绩效反馈与改进是绩效管理的重要环节，通过绩效面谈帮助员工认识自身不足并制定改进计划，从而不断提高工作绩效水平</text><path class="u" d="M0 0H125"/></g>
<g id="d3" transform="translate(78 419)"><rect class="w" y="-3.2" width="14" height="3.2"/><text class="t" y="-.7" textLength="14" lengthAdjust="spacingAndGlyphs">第五章内容</text><path class="u" d="M0 0H14"/></g>
<g id="d3a" transform="translate(97 410)"><rect class="w" y="-3.2" width="58" height="3.2"/><text class="t" y="-.7" textLength="58" lengthAdjust="spacingAndGlyphs">本章主要介绍质量管理的基本理论与方法</text><path class="u" d="M0 0H58"/></g>
<g id="d3b" transform="translate(97 418)"><rect class="w" y="-3.2" width="6" height="3.2"/><text class="t" y="-.7" textLength="6" lengthAdjust="spacingAndGlyphs">理论</text><path class="u" d="M0 0H6"/></g>
<g id="d3b1" transform="translate(110 416)"><rect class="w" y="-3.2" width="88" height="3.2"/><text class="t" y="-.7" textLength="88" lengthAdjust="spacingAndGlyphs">全面质量管理的基本观点包括为用户服务、预防为主、用数据说话和持续改进的观点</text><path class="u" d="M0 0H88"/></g>
<g id="d3b1a" transform="translate(205 416)"><rect class="w" y="-3.2" width="53" height="3.2"/><text class="t" y="-.7" textLength="53" lengthAdjust="spacingAndGlyphs">强调全员参与和全过程控制的理念</text><path class="u" d="M0 0H53"/></g>
<g id="d3b2" transform="translate(110 421)"><rect class="w" y="-3.2" width="68" height="3.2"/><text class="t" y="-.7" textLength="68" lengthAdjust="spacingAndGlyphs">质量管理体系标准及认证的基本要求和程序方法</text><path class="u" d="M0 0H68"/></g>
<g id="d3c" transform="translate(97 428)"><rect class="w" y="-3.2" width="6" height="3.2"/><text class="t" y="-.7" textLength="6" lengthAdjust="spacingAndGlyphs">工具</text><path class="u" d="M0 0H6"/></g>
<g id="d3c1" transform="translate(110 426)"><rect class="w" y="-3.2" width="40" height="3.2"/><text class="t" y="-.7" textLength="40" lengthAdjust="spacingAndGlyphs">常用统计分析工具和方法</text><path class="u" d="M0 0H40"/></g>
<g id="d3c2" transform="translate(110 431)"><rect class="w" y="-3.2" width="52" height="3.2"/><text class="t" y="-.7" textLength="52" lengthAdjust="spacingAndGlyphs">排列图、因果图、直方图和控制图等工具</text><path class="u" d="M0 0H52"/></g>
<g id="d3c2a" transform="translate(168 431)"><rect class="w" y="-3.2" width="25" height="3.2"/><text class="t" y="-.7" textLength="25" lengthAdjust="spacingAndGlyphs">质量管理七种工具</text><path class="u" d="M0 0H25"/></g>
<g id="d3d" transform="translate(97 436)"><rect class="w" y="-3.2" width="45" height="3.2"/><text class="t" y="-.7" textLength="45" lengthAdjust="spacingAndGlyphs">质量成本的构成与分析控制方法</text><path class="u" d="M0 0H45"/></g>
<g id="d4" transform="translate(78 451)"><rect class="w" y="-3.2" width="12" height="3.2"/><text class="t" y="-.7" textLength="12" lengthAdjust="spacingAndGlyphs">第六章内容</text><path class="u" d="M0 0H12"/></g>
<g id="d4a" transform="translate(97 444)"><rect class="w" y="-3.2" width="17" height="3.2"/><text class="t" y="-.7" textLength="17" lengthAdjust="spacingAndGlyphs">安全生产管理</text><path class="u" d="M0 0H17"/></g>
<g id="d4a1" transform="translate(122 441)"><rect class="w" y="-3.2" width="94" height="3.2"/><text class="t" y="-.7" textLength="94" lengthAdjust="spacingAndGlyphs">安全生产责任制是最基本的安全管理制度，是所有安全规章制度的核心内容</text><path class="u" d="M0 0H94"/></g>
<g id="d4a2" transform="translate(122 446)"><rect class="w" y="-3.2" width="90" height="3.2"/><text class="t" y="-.7" textLength="90" lengthAdjust="spacingAndGlyphs">安全教育培训包括三级安全教育、特种作业人员培训和日常安全教育等</text><path class="u" d="M0 0H90"/></g>
<g id="d4b" transform="translate(97 451)"><rect class="w" y="-3.2" width="19" height="3.2"/><text class="t" y="-.7" textLength="19" lengthAdjust="spacingAndGlyphs">事故调查处理</text><path class="u" d="M0 0H19"/></g>
<g id="d4b1" transform="translate(123 451)"><rect class="w" y="-3.2" width="47" height="3.2"/><text class="t" y="-.7" textLength="47" lengthAdjust="spacingAndGlyphs">坚持四不放过原则进行事故调查处理</text><path class="u" d="M0 0H47"/></g>
<g id="d4c" transform="translate(97 466)"><rect class="w" y="-3.2" width="6" height="3.2"/><text class="t" y="-.7" textLength="6" lengthAdjust="spacingAndGlyphs">要求</text><path class="u" d="M0 0H6"/></g>
<g id="d4c1" transform="translate(110 456)"><rect class="w" y="-3.2" width="19" height="3.2"/><text class="t" y="-.7" textLength="19" lengthAdjust="spacingAndGlyphs">严格遵章守纪</text><path class="u" d="M0 0H19"/></g>
<g id="d4c2" transform="translate(110 461)"><rect class="w" y="-3.2" width="19" height="3.2"/><text class="t" y="-.7" textLength="19" lengthAdjust="spacingAndGlyphs">规范操作流程</text><path class="u" d="M0 0H19"/></g>
<g id="d4c3" transform="translate(110 466)"><rect class="w" y="-3.2" width="21" height="3.2"/><text class="t" y="-.7" textLength="21" lengthAdjust="spacingAndGlyphs">定期隐患排查</text><path class="u" d="M0 0H21"/></g>
<g id="d4c4" transform="translate(110 471)"><rect class="w" y="-3.2" width="13" height="3.2"/><text class="t" y="-.7" textLength="13" lengthAdjust="spacingAndGlyphs">持证上岗制</text><path class="u" d="M0 0H13"/></g>
<g id="d4c5" transform="translate(110 477)"><rect class="w" y="-3.2" width="17" height="3.2"/><text class="t" y="-.7" textLength="17" lengthAdjust="spacingAndGlyphs">应急预案演练</text><path class="u" d="M0 0H17"/></g>
<g id="e1" transform="translate(73 505)"><rect class="w" y="-3.2" width="12" height="3.2"/><text class="t" y="-.7" textLength="12" lengthAdjust="spacingAndGlyphs">综合应用篇</text><path class="u" d="M0 0H12"/></g>
<g id="e1a" transform="translate(93 486)"><rect class="w" y="-3.2" width="84" height="3.2"/><text class="t" y="-.7" textLength="84" lengthAdjust="spacingAndGlyphs">综合运用前面所学的知识，分析和解决实际工作中遇到的各种问题和矛盾</text><path class="u" d="M0 0H84"/></g>
<g id="e1b" transform="translate(93 498)"><rect class="w" y="-3.2" width="5" height="3.2"/><text class="t" y="-.7" textLength="5" lengthAdjust="spacingAndGlyphs">方法</text><path class="u" d="M0 0H5"/></g>
<g id="e1b1" transform="translate(105 491)"><rect class="w" y="-3.2" width="48" height="3.2"/><text class="t" y="-.7" textLength="48" lengthAdjust="spacingAndGlyphs">问题分析的基本思路与方法步骤说明</text><path class="u" d="M0 0H48"/></g>
<g id="e1b2" transform="translate(105 504)"><rect class="w" y="-3.2" width="26" height="3.2"/><text class="t" y="-.7" textLength="26" lengthAdjust="spacingAndGlyphs">系统思维分析方法</text><path class="u" d="M0 0H26"/></g>
<g id="e1b2a" transform="translate(137 495)"><rect class="w" y="-3.2" width="35" height="3.2"/><text class="t" y="-.7" textLength="35" lengthAdjust="spacingAndGlyphs">从整体出发考虑问题的各个方面</text><path class="u" d="M0 0H35"/></g>
<g id="e1b2b" transform="translate(137 504)"><rect class="w" y="-3.2" width="20" height="3.2"/><text class="t" y="-.7" textLength="20" lengthAdjust="spacingAndGlyphs">层次分析方法</text><path class="u" d="M0 0H20"/></g>
<g id="e1b2b1" transform="translate(163 501)"><rect class="w" y="-3.2" width="47" height="3.2"/><text class="t" y="-.7" textLength="47" lengthAdjust="spacingAndGlyphs">建立层次结构模型并构造判断矩阵进行计算</text><path class="u" d="M0 0H47"/></g>
<g id="e1b2b2" transform="translate(163 506)"><rect class="w" y="-3.2" width="60" height="3.2"/><text class="t" y="-.7" textLength="60" lengthAdjust="spacingAndGlyphs">进行一致性检验并计算各层次元素的组合权重</text><path class="u" d="M0 0H60"/></g>
<g id="e1b2c" transform="translate(137 511)"><rect class="w" y="-3.2" width="91" height="3.2"/><text class="t" y="-.7" textLength="91" lengthAdjust="spacingAndGlyphs">根据计算结果对各方案进行排序选优，为科学决策提供可靠依据和参考</text><path class="u" d="M0 0H91"/></g>
<g id="e1c" transform="translate(93 524)"><rect class="w" y="-3.2" width="5" height="3.2"/><text class="t" y="-.7" textLength="5" lengthAdjust="spacingAndGlyphs">技巧</text><path class="u" d="M0 0H5"/></g>
<g id="e1c1" transform="translate(105 516)"><rect class="w" y="-3.2" width="44" height="3.2"/><text class="t" y="-.7" textLength="44" lengthAdjust="spacingAndGlyphs">沟通协调技巧与团队合作能力培养</text><path class="u" d="M0 0H44"/></g>
<g id="e1c2" transform="translate(105 521)"><rect class="w" y="-3.2" width="33" height="3.2"/><text class="t" y="-.7" textLength="33" lengthAdjust="spacingAndGlyphs">时间管理与工作效率提升方法</text><path class="u" d="M0 0H33"/></g>
<g id="e1c3" transform="translate(105 529)"><rect class="w" y="-3.2" width="17" height="3.2"/><text class="t" y="-.7" textLength="17" lengthAdjust="spacingAndGlyphs">科学决策方法</text><path class="u" d="M0 0H17"/></g>
<g id="e1c3a" transform="translate(129 526)"><rect class="w" y="-3.2" width="26" height="3.2"/><text class="t" y="-.7" textLength="26" lengthAdjust="spacingAndGlyphs">定性与定量相结合</text><path class="u" d="M0 0H26"/></g>
<g id="e1c3b" transform="translate(129 532)"><rect class="w" y="-3.2" width="62" height="3.2"/><text class="t" y="-.7" textLength="62" lengthAdjust="spacingAndGlyphs">个人决策与集体决策各有优缺点，应根据实际情况选择</text><path class="u" d="M0 0H62"/></g>
<g id="e2" transform="translate(73 551)"><rect class="w" y="-3.2" width="14" height="3.2"/><text class="t" y="-.7" textLength="14" lengthAdjust="spacingAndGlyphs">实践与思考</text><path class="u" d="M0 0H14"/></g>
<g id="e2a" transform="translate(93 536)"><rect class="w" y="-3.2" width="40" height="3.2"/><text class="t" y="-.7" textLength="40" lengthAdjust="spacingAndGlyphs">理论学习与实践锻炼相结合的途径</text><path class="u" d="M0 0H40"/></g>
<g id="e2b" transform="translate(93 550)"><rect class="w" y="-3.2" width="34" height="3.2"/><text class="t" y="-.7" textLength="34" lengthAdjust="spacingAndGlyphs">实践活动的组织与开展方式</text><path class="u" d="M0 0H34"/></g>
<g id="e2b1" transform="translate(134 550)"><rect class="w" y="-3.2" width="13" height="3.2"/><text class="t" y="-.7" textLength="13" lengthAdjust="spacingAndGlyphs">主要形式</text><path class="u" d="M0 0H13"/></g>
<g id="e2b1a" transform="translate(153 542)"><rect class="w" y="-3.2" width="25" height="3.2"/><text class="t" y="-.7" textLength="25" lengthAdjust="spacingAndGlyphs">现场参观学习考察</text><path class="u" d="M0 0H25"/></g>
<g id="e2b1b" transform="translate(153 548)"><rect class="w" y="-3.2" width="17" height="3.2"/><text class="t" y="-.7" textLength="17" lengthAdjust="spacingAndGlyphs">案例讨论会</text><path class="u" d="M0 0H17"/></g>
<g id="e2b1c" transform="translate(153 553)"><rect class="w" y="-3.2" width="24" height="3.2"/><text class="t" y="-.7" textLength="24" lengthAdjust="spacingAndGlyphs">模拟演练活动</text><path class="u" d="M0 0H24"/></g>
<g id="e2b1d" transform="translate(153 557)"><rect class="w" y="-3.2" width="42" height="3.2"/><text class="t" y="-.7" textLength="42" lengthAdjust="spacingAndGlyphs">撰写实践报告和心得体会总结</text><path class="u" d="M0 0H42"/></g>
<g id="e2c" transform="translate(93 565)"><rect class="w" y="-3.2" width="6" height="3.2"/><text class="t" y="-.7" textLength="6" lengthAdjust="spacingAndGlyphs">思考</text><path class="u" d="M0 0H6"/></g>
<g id="e2c1" transform="translate(105 562)"><rect class="w" y="-3.2" width="42" height="3.2"/><text class="t" y="-.7" textLength="42" lengthAdjust="spacingAndGlyphs">如何将理论知识有效转化为实际能力</text><path class="u" d="M0 0H42"/></g>
<g id="e2c2" transform="translate(105 567)"><rect class="w" y="-3.2" width="42" height="3.2"/><text class="t" y="-.7" textLength="42" lengthAdjust="spacingAndGlyphs">如何在实践中不断总结经验提高水平</text><path class="u" d="M0 0H42"/></g>
<g id="e3" transform="translate(73 586)"><rect class="w" y="-3.2" width="15" height="3.2"/><text class="t" y="-.7" textLength="15" lengthAdjust="spacingAndGlyphs">拓展学习资源</text><path class="u" d="M0 0H15"/></g>
<g id="e3a" transform="translate(95 586)"><rect class="w" y="-3.2" width="5" height="3.2"/><text class="t" y="-.7" textLength="5" lengthAdjust="spacingAndGlyphs">资源</text><path class="u" d="M0 0H5"/></g>
<g id="e3a1" transform="translate(108 575)"><rect class="bx" y="-4.2" width="27" height="4.2"/><text class="t" x="1" y="-1.2" textLength="25" lengthAdjust="spacingAndGlyphs">推荐阅读书目</text><path class="u" d="M0 0H27"/></g>
<g id="e3a1a" transform="translate(142 574)"><rect class="w" y="-3.2" width="44" height="3.2"/><text class="t" y="-.7" textLength="44" lengthAdjust="spacingAndGlyphs">经典著作及相关领域的前沿研究成果</text><path class="u" d="M0 0H44"/></g>
<g id="e3a1b" transform="translate(142 581)"><rect class="w" y="-3.2" width="25" height="3.2"/><text class="t" y="-.7" textLength="25" lengthAdjust="spacingAndGlyphs">在线网络学习平台</text><path class="u" d="M0 0H25"/></g>
<g id="e3a1b1" transform="translate(173 579)"><rect class="w" y="-3.2" width="42" height="3.2"/><text class="t" y="-.7" textLength="42" lengthAdjust="spacingAndGlyphs">慕课平台上的相关课程资源推荐</text><path class="u" d="M0 0H42"/></g>
<g id="e3a1b2" transform="translate(173 584)"><rect class="w" y="-3.2" width="95" height="3.2"/><text class="t" y="-.7" textLength="95" lengthAdjust="spacingAndGlyphs">专业学术数据库和期刊网站，可以查阅最新的研究论文和行业发展动态报告等资料</text><path class="u" d="M0 0H95"/></g>
<g id="e3a2" transform="translate(108 589)"><rect class="w" y="-3.2" width="59" height="3.2"/><text class="t" y="-.7" textLength="59" lengthAdjust="spacingAndGlyphs">参加学术讲座和专业培训课程，拓宽知识视野</text><path class="u" d="M0 0H59"/></g>
<g id="e3a3" transform="translate(108 594)"><rect class="w" y="-3.2" width="39" height="3.2"/><text class="t" y="-.7" textLength="39" lengthAdjust="spacingAndGlyphs">加入学习小组进行交流讨论</text><path class="u" d="M0 0H39"/></g>
<g id="e4" transform="translate(73 599)"><rect class="w" y="-3.2" width="20" height="3.2"/><text class="t" y="-.7" textLength="20" lengthAdjust="spacingAndGlyphs">课后练习及自测</text><path class="u" d="M0 0H20"/></g>
<g id="e4a" transform="translate(99 599)"><rect class="w" y="-3.2" width="47" height="3.2"/><text class="t" y="-.7" textLength="47" lengthAdjust="spacingAndGlyphs">完成章节练习题并对照答案进行自我检测</text><path class="u" d="M0 0H47"/></g>
</svg>
